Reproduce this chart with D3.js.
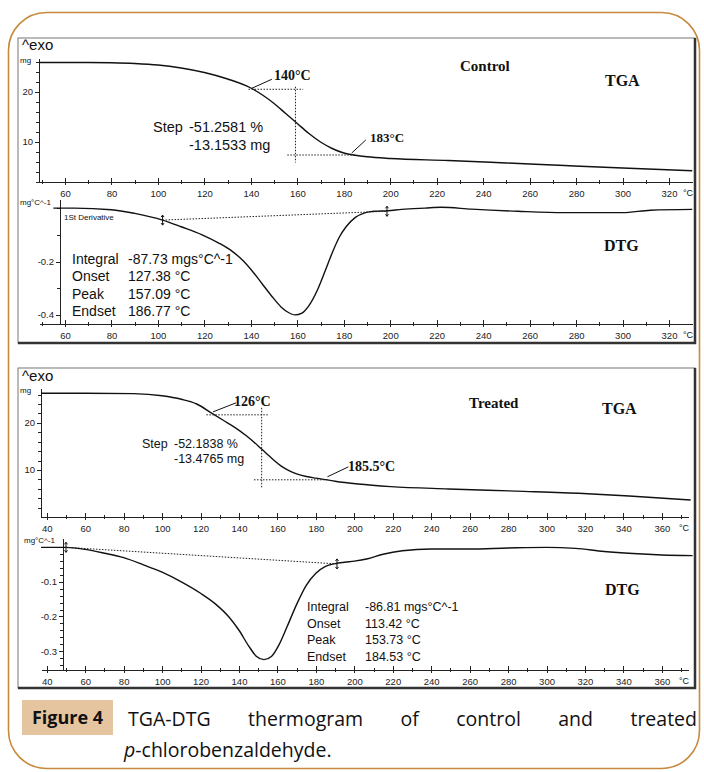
<!DOCTYPE html>
<html>
<head>
<meta charset="utf-8">
<script src="https://cdn.jsdelivr.net/npm/d3@7"></script>
<style>
body{margin:0;background:#fff}
svg{display:block}
.axis path,.axis line{stroke:#222;stroke-width:1;shape-rendering:crispEdges}
.axis text{font-family:"Liberation Sans Narrow","Liberation Sans",Arial,sans-serif;font-size:9.5px;fill:#222}
.sans{font-family:"Liberation Sans",Arial,sans-serif;fill:#111}
.serif{font-family:"Liberation Serif","Times New Roman",serif;font-weight:bold;fill:#111}
.curve{fill:none;stroke:#111;stroke-width:1.4}
.dots{fill:none;stroke:#222;stroke-width:1;stroke-dasharray:1.5,1.5}
</style>
</head>
<body>
<svg id="fig" width="704" height="772"></svg>
<script>
// ---- data ----
// control, TGA (mg)
var ctrlTgaT  = [49, 70, 80, 90, 100, 110, 120, 130, 140, 145, 150, 155, 160, 165, 170, 175, 180, 185, 190, 200, 225, 250, 275, 300, 330];
var ctrlTgaMg = [25.8, 25.8, 25.75, 25.6, 25.3, 24.7, 23.8, 22.5, 20.7, 19.3, 17.6, 15.6, 13.6, 11.6, 9.9, 8.6, 7.7, 7.25, 6.95, 6.6, 6.2, 5.7, 5.2, 4.7, 4.15];
// control, DTG (mg/°C)
var ctrlDtgT = [55, 64, 80, 90, 102, 110, 119, 126, 132, 137, 141, 145, 149, 153, 156, 159, 162, 165, 169, 172, 175, 178, 181, 185, 189, 193, 199, 205, 215, 222, 235, 255, 275, 300, 312, 330];
var ctrlDtgV = [0, 0, -0.006, -0.02, -0.045, -0.07, -0.1, -0.13, -0.162, -0.2, -0.24, -0.285, -0.33, -0.37, -0.39, -0.4, -0.393, -0.365, -0.3, -0.235, -0.168, -0.11, -0.07, -0.035, -0.018, -0.012, -0.01, -0.005, 0, 0.003, -0.004, -0.012, -0.017, -0.017, -0.008, -0.005];
// treated, TGA (mg)
var trtTgaT  = [37, 60, 85, 100, 110, 118, 126, 132, 138, 144, 150, 154, 158, 162, 166, 170, 175, 180, 185, 190, 202, 219, 249, 284, 319, 343, 375];
var trtTgaMg = [26.3, 26.3, 26.2, 25.75, 25.0, 24.0, 22.0, 20.5, 19.0, 17.2, 15.1, 13.6, 12.1, 10.8, 9.85, 9.15, 8.6, 8.25, 7.95, 7.6, 7.0, 6.45, 5.96, 5.5, 5.0, 4.47, 3.6];
// treated, DTG (mg/°C)
var trtDtgT = [37, 50, 60, 70, 80, 90, 100, 110, 120, 128, 135, 140, 145, 149, 153, 157, 161, 165, 170, 175, 180, 185, 190, 195, 200, 207, 215, 225, 240, 260, 280, 300, 315, 330, 345, 360, 376];
var trtDtgV = [0, 0, -0.006, -0.017, -0.03, -0.05, -0.072, -0.1, -0.133, -0.165, -0.203, -0.24, -0.285, -0.315, -0.325, -0.315, -0.28, -0.23, -0.165, -0.11, -0.075, -0.055, -0.047, -0.043, -0.04, -0.033, -0.02, -0.01, -0.005, -0.005, -0.002, 0, -0.003, -0.012, -0.018, -0.022, -0.024];

// step annotations: [onset T, mid T, end T] and [onset mg, end mg]
var ctrlStepT = [140, 159.2, 183], ctrlStepMg = [20.45, 7.3];
var trtStepT  = [126, 151.8, 185.5], trtStepMg = [21.7, 7.9];
// DTG integration baseline limits
var ctrlBaseT = [102, 198.6], ctrlBaseV = [-0.045, -0.012];
var trtBaseT  = [50, 191],    trtBaseV  = [0, -0.048];

// tick values
var ctrlMajorT = d3.range(60, 321, 20), ctrlMinorT = d3.range(50, 330, 20);
var trtMajorT  = d3.range(40, 361, 20), trtMinorT  = d3.range(50, 371, 20);
var tgaMajor = [10, 20], tgaMinor = d3.range(2, 27, 2);
var ctrlDtgMajor = [-0.2, -0.4], ctrlDtgMinor = [0, -0.1, -0.3];
var trtDtgMajor = [-0.1, -0.2, -0.3], trtDtgMinor = d3.range(0, -0.35, -0.02);

var ctrlInfo = [['Integral', '-87.73 mgs°C^-1'], ['Onset', '127.38 °C'], ['Peak', '157.09 °C'], ['Endset', '186.77 °C']];
var trtInfo  = [['Integral', '-86.81 mgs°C^-1'], ['Onset', '113.42 °C'], ['Peak', '153.73 °C'], ['Endset', '184.53 °C']];

// ---- drawing ----
var svg = d3.select('#fig');
svg.append('rect').attr('width', 704).attr('height', 772).attr('fill', '#fff');

// outer frame
svg.append('rect').attr('x', 8.5).attr('y', 12.5).attr('width', 691).attr('height', 756)
  .attr('rx', 38).attr('fill', 'none').attr('stroke', '#c68a3e').attr('stroke-width', 1.6);

function box(x, y, w, h){
  svg.append('rect').attr('x', x).attr('y', y).attr('width', w).attr('height', h)
    .attr('fill', '#fff').attr('stroke', '#777').attr('stroke-width', 1);
  svg.append('path').attr('d', 'M' + (x + w) + ',' + y + 'V' + (y + h) + 'H' + x)
    .attr('fill', 'none').attr('stroke', '#333').attr('stroke-width', 2.5);
}

function xAxis(x, y0, major, minor){
  var a = svg.append('g').attr('class', 'axis').attr('transform', 'translate(0,' + y0 + ')')
    .call(d3.axisBottom(x).tickValues(major).tickSize(4).tickPadding(4).tickSizeOuter(0));
  a.selectAll('.tick line').attr('y1', -4).attr('y2', 3);
  var m = svg.append('g').attr('class', 'axis').attr('transform', 'translate(0,' + y0 + ')')
    .call(d3.axisBottom(x).tickValues(minor).tickSize(2).tickFormat('').tickSizeOuter(0));
  m.select('.domain').remove();
  m.selectAll('.tick line').attr('y1', -2);
  svg.append('text').attr('class', 'sans').attr('x', x.range()[1] - 4).attr('y', y0 + 14)
    .attr('font-size', 9).attr('text-anchor', 'middle').text('°C');
}

function yAxis(y, x0, major, minor, fmt){
  svg.append('g').attr('class', 'axis').attr('transform', 'translate(' + x0 + ',0)')
    .call(d3.axisLeft(y).tickValues(major).tickSize(4).tickPadding(2).tickSizeOuter(0).tickFormat(fmt));
  var m = svg.append('g').attr('class', 'axis').attr('transform', 'translate(' + x0 + ',0)')
    .call(d3.axisLeft(y).tickValues(minor).tickSize(3).tickFormat('').tickSizeOuter(0));
  m.select('.domain').remove();
}

function curve(x, y, ts, vs){
  var line = d3.line().x(function(d){ return x(d[0]); }).y(function(d){ return y(d[1]); }).curve(d3.curveMonotoneX);
  svg.append('path').attr('class', 'curve').attr('d', line(d3.zip(ts, vs)));
}

function dotted(pts){
  svg.append('path').attr('class', 'dots').attr('d', d3.line()(pts));
}

function vmark(px, py){
  svg.append('path').attr('d', 'M' + px + ',' + (py - 5) + 'V' + (py + 5) +
      'M' + (px - 1.5) + ',' + (py - 3) + 'L' + px + ',' + (py - 5) + 'L' + (px + 1.5) + ',' + (py - 3) +
      'M' + (px - 1.5) + ',' + (py + 3) + 'L' + px + ',' + (py + 5) + 'L' + (px + 1.5) + ',' + (py + 3))
    .attr('fill', 'none').attr('stroke', '#111').attr('stroke-width', 1);
}

function label(cls, x, y, size, txt, anchor){
  return svg.append('text').attr('class', cls).attr('x', x).attr('y', y)
    .attr('font-size', size).attr('text-anchor', anchor || 'start').text(txt);
}

function info(rows, x1, x2, y0, dy, size){
  rows.forEach(function(r, i){
    label('sans', x1, y0 + i * dy, size, r[0]);
    label('sans', x2, y0 + i * dy, size, r[1]);
  });
}

var fmt1 = function(d){ return d.toFixed(1); };
var fmt0 = function(d){ return String(d); };

// ================= CONTROL =================
box(18, 38, 677, 305);
var cx = d3.scaleLinear().domain([48.8, 329.9]).range([39, 692]);
var cTga = d3.scaleLinear().domain([1.9, 26.7]).range([182, 58]);
var cDtg = d3.scaleLinear().domain([-0.434, 0.034]).range([324, 199]);

xAxis(cx, 182, ctrlMajorT, ctrlMinorT);
yAxis(cTga, 39, tgaMajor, tgaMinor, fmt0);
curve(cx, cTga, ctrlTgaT, ctrlTgaMg);

label('sans', 22, 50, 15, '^exo');
label('sans', 20, 63, 8, 'mg');

// step construction
dotted([[cx(ctrlStepT[0] - 1), cTga(ctrlStepMg[0])], [cx(ctrlStepT[1] + 3.3), cTga(ctrlStepMg[0])]]);
dotted([[cx(ctrlStepT[1]), cTga(ctrlStepMg[0]) - 2.5], [cx(ctrlStepT[1]), cTga(ctrlStepMg[1]) + 7.5]]);
dotted([[cx(ctrlStepT[1] - 3.5), cTga(ctrlStepMg[1])], [cx(ctrlStepT[2] + 1.7), cTga(ctrlStepMg[1])]]);
svg.append('path').attr('d', d3.line()([[cx(ctrlStepT[0]) + 21, cTga(ctrlStepMg[0]) - 10], [cx(ctrlStepT[0]) + 1, cTga(ctrlStepMg[0]) - 1]]))
  .attr('stroke', '#111').attr('fill', 'none');
svg.append('path').attr('d', d3.line()([[cx(ctrlStepT[2]) + 15, cTga(ctrlStepMg[1]) - 15], [cx(ctrlStepT[2]) + 1, cTga(ctrlStepMg[1]) - 2]]))
  .attr('stroke', '#111').attr('fill', 'none');
label('serif', 274, 80, 14, '140°C');
label('serif', 370, 142, 13, '183°C');
label('sans', 153, 132, 14.5, 'Step');
label('sans', 189, 132, 14.5, '-51.2581 %');
label('sans', 189, 150, 14.5, '-13.1533 mg');
label('serif', 460, 71, 15, 'Control');
label('serif', 605, 86, 16, 'TGA');

// DTG
xAxis(cx, 324, ctrlMajorT, ctrlMinorT);
yAxis(cDtg, 60, ctrlDtgMajor, ctrlDtgMinor, fmt1);
curve(cx, cDtg, ctrlDtgT, ctrlDtgV);
dotted([[cx(ctrlBaseT[0]), cDtg(ctrlBaseV[0])], [cx(ctrlBaseT[1]), cDtg(ctrlBaseV[1])]]);
vmark(cx(ctrlBaseT[0]), cDtg(ctrlBaseV[0]));
vmark(cx(ctrlBaseT[1]), cDtg(ctrlBaseV[1]));
label('sans', 20, 205, 8, 'mg°C^-1');
label('sans', 64, 220, 8, '1St Derivative');
info(ctrlInfo, 72, 128, 264, 17.4, 14);
label('serif', 604, 251, 16, 'DTG');

// ================= TREATED =================
box(18, 368, 677, 320);
var tx = d3.scaleLinear().domain([37, 373.6]).range([41, 688]);
var tTga = d3.scaleLinear().domain([0, 27.4]).range([517, 388]);
var tDtg = d3.scaleLinear().domain([-0.355, 0.027]).range([670, 538]);

xAxis(tx, 517, trtMajorT, trtMinorT);
yAxis(tTga, 41, tgaMajor, tgaMinor, fmt0);
curve(tx, tTga, trtTgaT, trtTgaMg);

label('sans', 22, 381, 15, '^exo');
label('sans', 20, 393, 8, 'mg');

dotted([[tx(trtStepT[0] - 3), tTga(trtStepMg[0])], [tx(trtStepT[1] + 3.5), tTga(trtStepMg[0])]]);
dotted([[tx(trtStepT[1]), tTga(trtStepMg[0]) - 7], [tx(trtStepT[1]), tTga(trtStepMg[1]) + 8]]);
dotted([[tx(trtStepT[1] - 4), tTga(trtStepMg[1])], [tx(trtStepT[2] + 0.5), tTga(trtStepMg[1])]]);
svg.append('path').attr('d', d3.line()([[tx(trtStepT[0]) + 24, tTga(trtStepMg[0]) - 12], [tx(trtStepT[0]) + 1, tTga(trtStepMg[0]) - 3]]))
  .attr('stroke', '#111').attr('fill', 'none');
svg.append('path').attr('d', d3.line()([[tx(trtStepT[2]) + 22, tTga(trtStepMg[1]) - 13], [tx(trtStepT[2]) + 1, tTga(trtStepMg[1]) - 3]]))
  .attr('stroke', '#111').attr('fill', 'none');
label('serif', 234, 406, 14, '126°C');
label('serif', 348, 471, 14, '185.5°C');
label('sans', 142, 448, 12.5, 'Step');
label('sans', 174, 448, 12.5, '-52.1838 %');
label('sans', 174, 463, 12.5, '-13.4765 mg');
label('serif', 469, 408, 15, 'Treated');
label('serif', 602, 414, 16, 'TGA');

// DTG
xAxis(tx, 670, trtMajorT, trtMinorT);
yAxis(tDtg, 63, trtDtgMajor, trtDtgMinor, fmt1);
curve(tx, tDtg, trtDtgT, trtDtgV);
dotted([[tx(trtBaseT[0]), tDtg(trtBaseV[0])], [tx(trtBaseT[1]), tDtg(trtBaseV[1])]]);
vmark(tx(trtBaseT[0]), tDtg(trtBaseV[0]));
vmark(tx(trtBaseT[1]), tDtg(trtBaseV[1]));
label('sans', 24, 543, 8, 'mg°C^-1');
info(trtInfo, 307, 365, 611, 16.7, 12.5);
label('serif', 605, 595, 16, 'DTG');

// ================= CAPTION =================
svg.append('rect').attr('x', 22).attr('y', 700).attr('width', 91).attr('height', 35).attr('fill', '#e5c5a0');
svg.append('text').attr('x', 67.5).attr('y', 724).attr('text-anchor', 'middle')
  .style('font-family', '"Open Sans",sans-serif').style('font-weight', 'bold').style('font-size', '18px')
  .attr('fill', '#111').text('Figure 4');

var capWords = ['TGA-DTG', 'thermogram', 'of', 'control', 'and', 'treated'];
var capX0 = 128, capX1 = 697;
var ws = capWords.map(function(w){
  return svg.append('text').attr('y', 726)
    .style('font-family', '"Open Sans",sans-serif').style('font-size', '19.5px').attr('fill', '#111').text(w);
});
var widths = ws.map(function(t){ return t.node().getComputedTextLength(); });
var gap = (capX1 - capX0 - d3.sum(widths)) / (capWords.length - 1);
var cur = capX0;
ws.forEach(function(t, i){ t.attr('x', cur); cur += widths[i] + gap; });

var l2 = svg.append('text').attr('x', 124).attr('y', 757)
  .style('font-family', '"Open Sans",sans-serif').style('font-size', '19.5px').attr('fill', '#111');
l2.append('tspan').style('font-style', 'italic').text('p');
l2.append('tspan').text('-chlorobenzaldehyde.');
</script>
</body>
</html>
